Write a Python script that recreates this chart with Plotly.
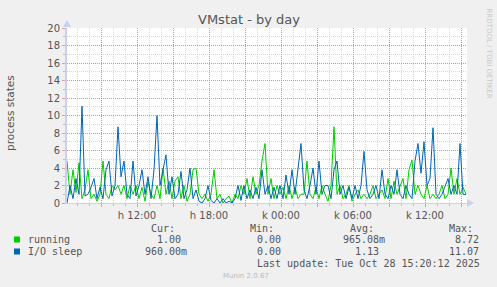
import plotly.graph_objects as go

# ---------------- data ----------------
start_hour = 12 - 70 / 12          # first sample (hours since day 1 00:00)
step_hours = 0.25                   # 15-minute samples

running = [
    4.8, 1.0, 3.8, 1.2, 4.6, 0.5, 1.5, 3.8, 0.5, 1.0,
    0.2, 1.0, 4.8, 1.0, 0.5, 2.0, 1.5, 2.0, 1.0, 2.0,
    0.5, 2.0, 1.0, 2.0, 0.5, 1.8, 0.2, 2.4, 1.0, 0.5,
    2.0, 0.5, 4.0, 1.0, 2.5, 0.5, 2.5, 3.0, 0.5, 2.0,
    0.2, 1.0, 3.8, 4.0, 1.0, 0.5, 1.0, 0.2, 1.0, 3.8,
    0.5, 1.0, 0.0, 0.5, 0.8, 0.0, 1.0, 0.5, 2.0, 1.0,
    2.8, 0.5, 3.0, 1.0, 2.0, 4.8, 6.8, 1.0, 2.8, 0.5,
    2.0, 1.0, 1.8, 0.5, 2.0, 0.5, 1.8, 0.5, 1.0, 1.0,
    4.8, 1.0, 0.5, 1.8, 0.5, 2.0, 1.0, 0.2, 2.0, 8.72,
    1.0, 2.0, 0.5, 1.0, 2.0, 0.2, 1.0, 1.5, 0.5, 1.0,
    0.5, 1.0, 2.0, 0.5, 1.0, 1.5, 0.5, 2.8, 0.5, 2.5,
    1.0, 2.0, 2.8, 0.5, 3.8, 4.9, 1.0, 2.0, 1.0, 0.5,
    2.0, 0.5, 1.0, 0.5, 1.0, 2.0, 0.5, 1.0, 4.0, 1.0,
    2.8, 1.0, 1.8, 1.0,
]
io_sleep = [
    0.0, 2.0, 0.5, 2.8, 1.0, 11.07, 0.8, 1.0, 1.8, 2.8,
    0.5, 1.8, 0.5, 3.8, 4.8, 0.8, 2.0, 8.7, 3.0, 4.8,
    1.0, 0.5, 4.8, 0.8, 2.0, 3.8, 1.0, 3.0, 0.5, 3.8,
    10.0, 2.0, 3.8, 5.5, 1.0, 3.0, 0.5, 1.0, 3.6, 0.5,
    1.5, 4.0, 0.5, 1.5, 0.2, 0.0, 0.5, 2.0, 0.3, 0.0,
    0.5, 0.0, 0.5, 0.0, 0.2, 0.0, 0.5, 2.0, 0.3, 2.0,
    0.5, 1.5, 0.5, 1.8, 0.5, 3.8, 1.0, 2.0, 0.5, 1.8,
    0.5, 2.0, 0.5, 3.2, 1.0, 3.8, 1.0, 4.0, 6.8, 1.5,
    0.5, 2.0, 4.0, 1.0, 4.8, 1.0, 2.0, 2.0, 0.5, 3.8,
    4.8, 1.0, 2.0, 0.5, 1.8, 0.5, 2.0, 0.5, 2.0, 5.9,
    1.5, 0.5, 1.0, 2.0, 0.5, 3.8, 1.0, 0.5, 2.0, 1.0,
    3.8, 1.0, 0.5, 2.0, 1.0, 0.5, 4.8, 6.8, 3.4, 7.0,
    2.0, 2.8, 8.6, 1.0, 0.5, 1.0, 2.0, 2.8, 1.0, 2.0,
    1.0, 6.8, 1.0, 0.96,
]
times = [start_hour + i * step_hours for i in range(len(running))]

tick_hours = [12, 18, 24, 30, 36]
tick_labels = ["h 12:00", "h 18:00", "k 00:00", "k 06:00", "k 12:00"]

series_names = ["running", "I/O sleep"]
series_colors = ["#00CC00", "#0066B3"]
stat_cur = ["  1.00 ", "960.00m"]
stat_min = ["  0.00 ", "  0.00 "]
stat_avg = ["965.08m", "  1.13 "]
stat_max = ["  8.72 ", " 11.07 "]

# ---------------- geometry ----------------
W, H = 497, 287
L, R, T, B = 67, 467, 28, 203
x0 = start_hour
x1 = start_hour + (R - L) / 12


def px(x):
    return (x - L) / (R - L)


def py(y):
    return (B - y) / (B - T)


fig = go.Figure()
for name, vals, col in [("running", running, series_colors[0]),
                        ("I/O sleep", io_sleep, series_colors[1])]:
    fig.add_trace(go.Scatter(x=times, y=vals, mode="lines", name=name,
                             line=dict(color=col, width=1), showlegend=False))

major_ticks = list(range(9, 40, 3))
major_text = [tick_labels[tick_hours.index(h)] if h in tick_hours else "" for h in major_ticks]

grid_major = "rgba(230,120,120,0.8)"
grid_minor = "rgba(190,190,190,0.6)"
axis_col = "#C9D1F2"
txt = "#555555"

fig.update_layout(
    width=W, height=H,
    margin=dict(l=L, r=W - R, t=T, b=H - B),
    paper_bgcolor="#F0F0F0", plot_bgcolor="#FFFFFF",
    font=dict(family="DejaVu Sans", size=10, color=txt),
    xaxis=dict(range=[x0, x1], tickmode="array", tickvals=major_ticks, ticktext=major_text,
               showgrid=True, gridcolor=grid_major, griddash="1px,1px", gridwidth=1,
               minor=dict(tickmode="linear", tick0=0, dtick=1, showgrid=True,
                          gridcolor=grid_minor, griddash="1px,1px", gridwidth=1,
                          ticks="outside", ticklen=2, tickcolor="#BBBBBB"),
               ticks="outside", ticklen=3, tickcolor="#E0A0A0",
               showline=True, linecolor=axis_col, linewidth=1, zeroline=False,
               tickfont=dict(size=10, color=txt)),
    yaxis=dict(range=[0, 20], tickmode="array", tickvals=list(range(0, 21, 2)),
               showgrid=True, gridcolor=grid_major, griddash="1px,1px", gridwidth=1,
               minor=dict(tickmode="linear", tick0=0, dtick=1, showgrid=True,
                          gridcolor=grid_minor, griddash="1px,1px", gridwidth=1,
                          ticks="outside", ticklen=2, tickcolor="#BBBBBB"),
               ticks="outside", ticklen=3, tickcolor="#E0A0A0",
               showline=True, linecolor=axis_col, linewidth=2, zeroline=False,
               tickfont=dict(size=10, color=txt)),
)

shapes = []
# axis arrows
shapes.append(dict(type="path", xref="paper", yref="paper",
                   path=f"M {px(63)} {py(27)} L {px(71)} {py(27)} L {px(67)} {py(20)} Z",
                   fillcolor=axis_col, line=dict(width=0)))
shapes.append(dict(type="path", xref="paper", yref="paper",
                   path=f"M {px(467)} {py(199)} L {px(467)} {py(207)} L {px(474)} {py(203)} Z",
                   fillcolor=axis_col, line=dict(width=0)))
# legend swatches
for i, col in enumerate(series_colors):
    yc = 239.5 + 12 * i
    shapes.append(dict(type="rect", xref="paper", yref="paper",
                       x0=px(14), x1=px(20), y0=py(yc + 3), y1=py(yc - 3),
                       fillcolor=col, line=dict(width=0)))
fig.update_layout(shapes=shapes)

mono = dict(family="DejaVu Sans Mono", size=10, color=txt)
ann = []


def add_text(x, y, text, font=mono, xanchor="left", angle=0):
    ann.append(dict(x=px(x), y=py(y), xref="paper", yref="paper", text=text,
                    showarrow=False, xanchor=xanchor, yanchor="middle",
                    font=font, textangle=angle))


add_text(249, 19, "VMstat - by day", font=dict(family="DejaVu Sans", size=13, color=txt), xanchor="center")
add_text(10, 113, "process states", font=dict(family="DejaVu Sans", size=10.5, color=txt),
         xanchor="center", angle=-90)
add_text(149, 228, "Cur:")
add_text(248, 228, "Min:")
add_text(348, 228, "Avg:")
add_text(447, 228, "Max:")
for i, name in enumerate(series_names):
    yy = 239.5 + 12 * i
    add_text(26, yy, name)
    add_text(143, yy, stat_cur[i].replace(" ", "&nbsp;"))
    add_text(243, yy, stat_min[i].replace(" ", "&nbsp;"))
    add_text(341, yy, stat_avg[i].replace(" ", "&nbsp;"))
    add_text(441, yy, stat_max[i].replace(" ", "&nbsp;"))
add_text(482, 263.5, "Last update: Tue Oct 28 15:20:12 2025", xanchor="right")
add_text(246, 276, "Munin 2.0.67", font=dict(family="DejaVu Sans", size=7, color="#BBBBBB"), xanchor="center")
add_text(488.5, 53, "RRDTOOL / TOBI OETIKER", font=dict(family="DejaVu Sans", size=7, color="#C8C8C8"),
         xanchor="center", angle=90)
fig.update_layout(annotations=ann)

fig.write_html("out.html")
